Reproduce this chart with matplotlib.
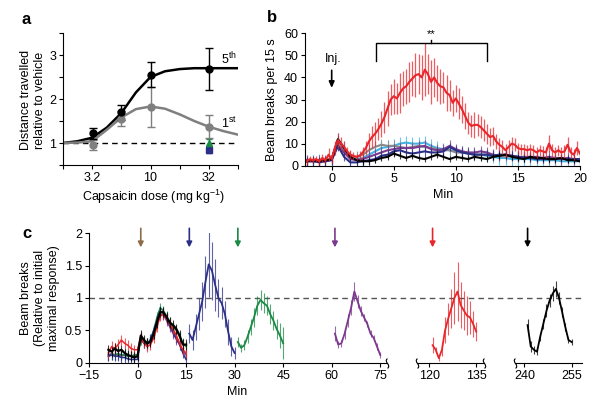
"""
Capsaicin locomotion figure: dose response (a), time course (b), repeated dosing (c)
"""

# %% Imports
import numpy as np
import matplotlib.pyplot as plt
from matplotlib.path import Path
from matplotlib.transforms import blended_transform_factory as blend

plt.rcParams.update(
    {
        "font.family": ["Liberation Sans", "DejaVu Sans"],
        "font.size": 9,
        "mathtext.fontset": "custom",
        "mathtext.rm": "Liberation Sans",
        "mathtext.it": "Liberation Sans:italic",
        "axes.linewidth": 0.8,
        "xtick.labelsize": 9,
        "ytick.labelsize": 9,
        "xtick.major.size": 3,
        "ytick.major.size": 3,
        "xtick.major.pad": 2,
        "ytick.major.pad": 2,
    }
)

RED = "#e8262b"
CYAN = "#3fb5e5"
GRAY = "#8a8a8a"
PURPLE = "#7b3a8e"
NAVY = "#2b2f86"
GREEN = "#1a8a45"
BROWN = "#8b6d4a"

# %% Data - panel a (dose response)
curve_dose = [1.78, 2.37, 3.16, 4.22, 5.62, 7.5, 10, 13.3, 17.8, 23.7, 31.6, 42.2, 56.2]
curve_5th = [1.0, 1.04, 1.12, 1.35, 1.68, 2.15, 2.5, 2.63, 2.68, 2.7, 2.7, 2.7, 2.7]
curve_1st = [1.0, 1.01, 1.04, 1.3, 1.58, 1.77, 1.83, 1.78, 1.65, 1.5, 1.37, 1.27, 1.19]
dose_pts = [3.2, 5.6, 10, 32]
mean_5th = [1.22, 1.7, 2.55, 2.68]
sem_5th = [0.12, 0.17, 0.28, 0.47]
mean_1st = [0.95, 1.55, 1.82, 1.37]
sem_1st = [0.12, 0.17, 0.45, 0.26]
ctrl_green, ctrl_green_sem = 1.0, 0.08
ctrl_navy, ctrl_navy_sem = 0.85, 0.08

# %% Data - panel b (beam breaks per 15 s)
t_red = np.arange(-2, 20.01, 0.25)
red_mean = [
    2, 3, 2.5, 3,
    2, 3.5, 2.5, 5,
    3, 8, 11.5, 10,
    8.5, 6.5, 5, 4.5,
    4, 4.5, 6, 8,
    11, 13, 14.5, 16.5,
    19, 22, 26, 30,
    31.5, 30.5, 33, 35,
    36, 38, 39.5, 41,
    41.5, 40, 43.5, 41.5,
    38, 40, 37.5, 36,
    35.5, 33, 32, 28.5,
    30.5, 28, 25.5, 22.5,
    19.5, 18, 18.5, 18.5,
    17.5, 16, 14.5, 13,
    13.5, 11, 9.5, 8.5,
    7, 8.5, 10, 9.5,
    8, 7.5, 7.5, 7,
    7.5, 7, 6, 7,
    6.5, 6, 10, 7,
    6, 7, 6, 6.5,
    9.5, 6, 5, 8,
    5.5,
]
red_sem = [
    1.5, 1.5, 1.5, 1.5,
    1.5, 2, 1.5, 3,
    2, 3, 3.5, 3,
    2.5, 2, 2, 1.5,
    1.5, 2, 2.5, 3,
    4, 5, 5.5, 5,
    6, 7, 8, 7,
    8, 7, 9, 8,
    8, 9, 8, 10,
    9, 10, 12, 9,
    10, 9, 8, 8,
    7, 8, 7, 6,
    6, 7, 6, 6,
    5, 5, 6, 5,
    5, 5, 4.5, 4,
    4, 3.5, 3, 3,
    3, 3, 3, 3,
    2.5, 2.5, 2.5, 2.5,
    2.5, 2.5, 2.5, 2.5,
    2.5, 2.5, 4, 3,
    2.5, 2.5, 2.5, 3,
    3.5, 2.5, 2.5, 3,
    2.5,
]

t_low = np.arange(-2, 20.01, 0.5)
black_b = [2, 2.5, 2, 2.5, 3, 12, 8, 4, 2.5, 2, 2, 2.5, 3.5, 4, 5.5, 4.5, 3.5, 4.5, 3.5, 3, 4, 5,
           4, 3, 4, 3.5, 3, 4, 3.5, 3, 4, 4.5, 5, 4, 3.5, 3, 4, 3.5, 3.5, 3, 3, 3.5, 2.5, 2.5, 2]
navy_b = [2, 2, 1.5, 2, 2.5, 9, 4, 1.5, 1.5, 2, 2.5, 3, 4.5, 5, 6.5, 7, 6, 5.5, 6, 6.5, 6, 6,
          6.5, 8.5, 7, 6, 5.5, 5, 5, 5, 4.5, 5, 5, 4.5, 4, 3.5, 3.5, 3, 3, 3, 3, 3.5, 3, 3, 3]
purple_b = [2.5, 2, 2.5, 2, 3, 9, 6, 3, 2.5, 3, 4, 5, 6, 7, 7.5, 8, 8, 8, 8.5, 9, 7.5, 7,
            7.5, 9, 7.5, 6.5, 6, 6, 6.5, 6, 5, 4.5, 5, 4.5, 4, 4, 4, 4, 3.5, 4, 3.5, 3, 3.5, 3, 3]
gray_b = [2, 2.5, 2, 2.5, 3, 10, 7, 4, 4, 5, 7, 8.5, 9.5, 9, 9, 8.5, 8, 8.5, 9, 8.5, 8, 7.5,
          7, 7, 6, 6, 5.5, 5, 5, 5, 4.5, 4.5, 4, 4.5, 4, 3.5, 3.5, 3.5, 3.5, 3, 3, 3, 3, 3, 2.5]
cyan_b = [2, 2, 2.5, 2, 3, 12, 8, 3.5, 3, 3.5, 5, 6.5, 8, 8.5, 9, 10, 10.5, 10, 10, 10.5, 9, 8,
          7.5, 7, 6.5, 6, 5.5, 5, 5, 4.5, 4, 3.5, 3.5, 3, 3, 3, 3, 2.5, 2.5, 2.5, 2.5, 2, 2, 2, 2]
low_series = [
    (cyan_b, CYAN, 3.0),
    (gray_b, GRAY, 2.5),
    (purple_b, PURPLE, 2.5),
    (navy_b, NAVY, 2.0),
    (black_b, "black", 1.5),
]

# %% Data - panel c (relative to initial maximal response)
t_base = np.arange(-9, 16)
base_black = [0.2, 0.17, 0.22, 0.18, 0.2, 0.15, 0.12, 0.1, 0.08, 0.1, 0.42, 0.35, 0.3, 0.32,
              0.45, 0.62, 0.78, 0.78, 0.7, 0.62, 0.58, 0.52, 0.42, 0.28, 0.28]
base_red = [0.15, 0.25, 0.22, 0.28, 0.35, 0.3, 0.27, 0.22, 0.2, 0.2, 0.4, 0.3, 0.25, 0.28,
            0.38, 0.55, 0.72, 0.75, 0.68, 0.6, 0.52, 0.42, 0.3, 0.2, 0.15]
base_navy = [0.1, 0.12, 0.1, 0.1, 0.08, 0.08, 0.06, 0.05, 0.05, 0.05, 0.4, 0.3, 0.28, 0.36,
             0.5, 0.66, 0.8, 0.76, 0.68, 0.58, 0.48, 0.38, 0.28, 0.15, 0.05]
base_green = [0.1, 0.12, 0.12, 0.14, 0.12, 0.12, 0.1, 0.1, 0.12, 0.12, 0.35, 0.3, 0.3, 0.35,
              0.5, 0.7, 0.85, 0.8, 0.72, 0.62, 0.55, 0.5, 0.4, 0.3, 0.25]
base_purple = [0.12, 0.14, 0.12, 0.12, 0.1, 0.12, 0.1, 0.1, 0.1, 0.1, 0.38, 0.32, 0.3, 0.32,
               0.46, 0.62, 0.75, 0.74, 0.65, 0.55, 0.45, 0.36, 0.28, 0.18, 0.12]

seg_navy = [0.45, 0.35, 0.55, 0.75, 0.95, 1.25, 1.52, 1.42, 1.2, 1.0, 0.92, 0.75, 0.48, 0.25, 0.15]
seg_navy_sem = [0.15, 0.15, 0.2, 0.25, 0.3, 0.4, 0.5, 0.45, 0.4, 0.3, 0.25, 0.2, 0.2, 0.15, 0.1]
seg_green = [0.32, 0.23, 0.27, 0.4, 0.55, 0.7, 0.88, 0.97, 0.92, 0.88, 0.75, 0.65, 0.52, 0.42, 0.3]
seg_green_sem = [0.08, 0.06, 0.08, 0.1, 0.12, 0.15, 0.15, 0.15, 0.15, 0.15, 0.15, 0.15, 0.15, 0.2, 0.25]
seg_purple = [0.45, 0.28, 0.3, 0.45, 0.65, 0.85, 1.1, 0.95, 0.8, 0.7, 0.6, 0.45, 0.38, 0.25, 0.12]
seg_purple_sem = [0.12, 0.05, 0.05, 0.08, 0.1, 0.12, 0.15, 0.1, 0.08, 0.06, 0.05, 0.05, 0.05, 0.05, 0.04]
seg_red = [0.27, 0.2, 0.07, 0.2, 0.5, 0.68, 0.84, 1.0, 1.1, 0.89, 0.81, 0.73, 0.7, 0.6, 0.48]
seg_red_sem = [0.12, 0.05, 0.05, 0.1, 0.2, 0.25, 0.3, 0.4, 0.45, 0.35, 0.3, 0.3, 0.25, 0.2, 0.15]
seg_black = [0.58, 0.25, 0.2, 0.17, 0.4, 0.6, 0.8, 0.96, 1.07, 1.14, 1.0, 0.78, 0.55, 0.35, 0.32]
seg_black_sem = [0.1, 0.08, 0.06, 0.05, 0.06, 0.08, 0.1, 0.1, 0.12, 0.12, 0.1, 0.08, 0.06, 0.05, 0.05]

inj_times = [1, 16, 31, 61, 121, 241]
inj_colors = [BROWN, NAVY, GREEN, PURPLE, RED, "black"]

# small wiggle used as an axis-break mark
BREAK_MARK = Path(
    [(0, -1), (0.9, -0.4), (-0.9, 0.4), (0, 1)],
    [Path.MOVETO, Path.CURVE4, Path.CURVE4, Path.CURVE4],
)


# %% Helpers


def _style(ax):
    ax.spines["top"].set_visible(False)
    ax.spines["right"].set_visible(False)
    ax.tick_params(direction="out", width=0.8)


def _trace(ax, t, y, sem, color, lw=1.2, elw=0.8):
    y = np.asarray(y)
    ax.vlines(t, y - np.asarray(sem), y + np.asarray(sem), color=color, lw=elw, alpha=0.75)
    ax.plot(t, y, color=color, lw=lw)


def _arrow(ax, x, color):
    ax.annotate(
        "", xy=(x, 1.74), xytext=(x, 2.12), annotation_clip=False,
        arrowprops=dict(arrowstyle="-|>,head_width=0.18,head_length=0.35", color=color, lw=1.2),
    )


def _break(ax, x):
    ax.plot([x], [0], transform=blend(ax.transData, ax.transAxes), marker=BREAK_MARK, ms=7,
            mfc="none", mec="black", mew=0.8, ls="none", clip_on=False, zorder=5)


# %% Figure
fig = plt.figure(figsize=(6, 4.07), dpi=100)

# panel a
ax_a = fig.add_axes([63 / 600, 1 - 165 / 407, 175 / 600, 132 / 407])
_style(ax_a)
ax_a.set_xscale("log")
ax_a.set_xlim(1.78, 56.2)
ax_a.set_ylim(0.5, 3.5)
ax_a.plot([1.78, 56.2], [1, 1], ls=(0, (4, 3)), color="black", lw=1)
ax_a.plot(curve_dose, curve_5th, color="black", lw=1.8)
ax_a.plot(curve_dose, curve_1st, color="#7f7f7f", lw=1.8)
ax_a.errorbar([32], [ctrl_navy], yerr=[ctrl_navy_sem], fmt="s", ms=4, color=NAVY, capsize=2.5, lw=1)
ax_a.errorbar([32], [ctrl_green], yerr=[ctrl_green_sem], fmt="^", ms=5, color=GREEN, capsize=2.5, lw=1)
ax_a.errorbar(dose_pts, mean_1st, yerr=sem_1st, fmt="o", ms=5, color="#7f7f7f", capsize=3, lw=1)
ax_a.errorbar(dose_pts, mean_5th, yerr=sem_5th, fmt="o", ms=5, color="black", capsize=3, lw=1)
ax_a.set_xticks([10 ** 0.5, 10, 10 ** 1.5])
ax_a.set_xticklabels(["3.2", "10", "32"])
ax_a.set_xticks([10 ** 0.25, 10 ** 0.75, 10 ** 1.25, 10 ** 1.75], minor=True)
ax_a.tick_params(axis="x", which="minor", length=3, width=0.8)
ax_a.set_yticks([1, 2, 3])
ax_a.set_yticks([0.5, 1.5, 2.5, 3.5], minor=True)
ax_a.tick_params(axis="y", which="minor", length=3, width=0.8)
ax_a.text(40, 2.9, "5$^{\\rm th}$", ha="left", va="center", fontsize=9)
ax_a.text(40, 1.45, "1$^{\\rm st}$", ha="left", va="center", fontsize=9)

# panel b
ax_b = fig.add_axes([305 / 600, 1 - 165.7 / 407, 275 / 600, 132.4 / 407])
_style(ax_b)
ax_b.set_xlim(-2.15, 20)
ax_b.set_ylim(0, 60)
for vals, col, sem in low_series:
    _trace(ax_b, t_low, vals, sem, col, lw=1.5, elw=0.8)
_trace(ax_b, t_red, red_mean, red_sem, RED, lw=1.5, elw=0.9)
ax_b.set_xticks([0, 5, 10, 15, 20])
ax_b.set_yticks(range(0, 61, 10))
ax_b.plot([3.55, 3.55, 12.5, 12.5], [47.5, 55.5, 55.5, 47.5], color="black", lw=1, clip_on=False)
ax_b.plot([8, 8], [55.5, 56.8], color="black", lw=1, clip_on=False)
ax_b.text(8, 57.5, "**", ha="center", va="bottom", fontsize=8)
ax_b.text(0.1, 48.5, "Inj.", ha="center", va="center", fontsize=9)
ax_b.annotate("", xy=(0, 34), xytext=(0, 44.5),
              arrowprops=dict(arrowstyle="-|>,head_width=0.18,head_length=0.4", color="black", lw=1.2))

# panel c - three broken segments of one time axis
c_bottom, c_height = 1 - 362.7 / 407, 129.4 / 407
ax_c1 = fig.add_axes([89 / 600, c_bottom, 297.7 / 600, c_height])
ax_c2 = fig.add_axes([417 / 600, c_bottom, 67 / 600, c_height])
ax_c3 = fig.add_axes([515 / 600, c_bottom, 67 / 600, c_height])
for ax in (ax_c1, ax_c2, ax_c3):
    _style(ax)
    ax.set_ylim(0, 2)
    ax.patch.set_visible(False)
for ax in (ax_c2, ax_c3):
    ax.spines["left"].set_visible(False)
    ax.set_yticks([])
ax_c1.set_xlim(-15, 77)
ax_c2.set_xlim(116, 137.5)
ax_c3.set_xlim(237, 258.3)
ax_c1.set_xticks([-15, 0, 15, 30, 45, 60, 75])
ax_c2.set_xticks([120, 135])
ax_c3.set_xticks([240, 255])
ax_c1.set_yticks([0, 0.5, 1, 1.5, 2])
ax_c1.set_yticklabels(["0", "0.5", "1", "1.5", "2"])

ax_c1.plot([0, 494 / 297.7], [1, 1], transform=blend(ax_c1.transAxes, ax_c1.transData),
           ls=(0, (4, 3)), color="#555555", lw=1, clip_on=False, zorder=0.5)

for vals, col in [(base_purple, PURPLE), (base_green, GREEN), (base_navy, NAVY), (base_red, RED)]:
    _trace(ax_c1, t_base, vals, 0.08, col, lw=1.1, elw=0.8)
_trace(ax_c1, t_base, base_black, 0.08, "black", lw=1.6, elw=0.8)
_trace(ax_c1, np.arange(16, 31), seg_navy, seg_navy_sem, NAVY, lw=1.3)
_trace(ax_c1, np.arange(31, 46), seg_green, seg_green_sem, GREEN, lw=1.3)
_trace(ax_c1, np.arange(61, 76), seg_purple, seg_purple_sem, PURPLE, lw=1.3)
_trace(ax_c2, np.arange(121, 136), seg_red, seg_red_sem, RED, lw=1.3)
_trace(ax_c3, np.arange(241, 256), seg_black, seg_black_sem, "black", lw=1.3)

for t_inj, col in zip(inj_times, inj_colors):
    ax = ax_c1 if t_inj < 100 else (ax_c2 if t_inj < 200 else ax_c3)
    _arrow(ax, t_inj, col)

_break(ax_c1, 77)
_break(ax_c2, 116)
_break(ax_c2, 137.5)
_break(ax_c3, 237)

# labels
fig.text(22 / 600, 1 - 20 / 407, "a", fontsize=12, fontweight="bold", va="center")
fig.text(267 / 600, 1 - 18 / 407, "b", fontsize=12, fontweight="bold", va="center")
fig.text(22 / 600, 1 - 233 / 407, "c", fontsize=12, fontweight="bold", va="center")
fig.text(33 / 600, 1 - 100 / 407, "Distance travelled\nrelative to vehicle", rotation=90,
         ha="center", va="center", multialignment="center", fontsize=9)
fig.text(272 / 600, 1 - 100 / 407, "Beam breaks per 15 s", rotation=90, ha="center", va="center", fontsize=9)
fig.text(40 / 600, 1 - 298 / 407, "Beam breaks\n(Relative to initial\nmaximal response)", rotation=90,
         ha="center", va="center", multialignment="center", fontsize=9)
fig.text(153 / 600, 1 - 197 / 407, "Capsaicin dose (mg kg$^{\\mathregular{-1}}$)", ha="center", va="center",
         fontsize=9)
fig.text(443 / 600, 1 - 195 / 407, "Min", ha="center", va="center", fontsize=9)
fig.text(237 / 600, 1 - 392 / 407, "Min", ha="center", va="center", fontsize=9)

fig.savefig("out.png", dpi=100)
